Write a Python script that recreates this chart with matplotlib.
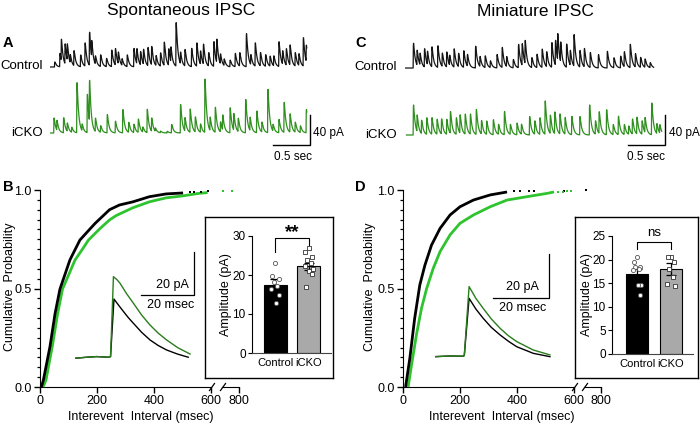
import numpy as np
import matplotlib
matplotlib.use("Agg")
import matplotlib.pyplot as plt
from matplotlib.lines import Line2D

plt.rcParams['font.family'] = ['Liberation Sans', 'DejaVu Sans']

# ---------------- DATA ----------------
# Raw traces: event times (s) and amplitudes (pA)
sA_ctrl_t = [0.06, 0.13, 0.15, 0.20, 0.23, 0.27, 0.32, 0.41, 0.47, 0.53, 0.56, 0.61, 0.68, 0.76, 0.83,
             0.88, 0.92, 0.97, 1.04, 1.13, 1.17, 1.22, 1.26, 1.32, 1.37, 1.43, 1.49, 1.54, 1.60, 1.63,
             1.70, 1.76, 1.82, 1.91, 1.98, 2.03, 2.07, 2.14, 2.21, 2.25, 2.30, 2.35, 2.43, 2.50, 2.56,
             2.65, 2.71, 2.77, 2.84, 2.91, 2.97, 3.02, 3.09, 3.14, 3.19, 3.24, 3.31, 3.36, 3.42, 3.46]
sA_ctrl_a = [6.7, 17.8, 28.9, 26.7, 22.2, 11.1, 20.0, 15.6, 31.0, 44.0, 22.0, 11.0, 15.6, 11.0, 22.0,
             22.0, 15.6, 8.9, 15.6, 24.4, 20.0, 17.8, 20.0, 24.4, 24.4, 13.3, 17.8, 31.0, 22.0, 20.0,
             58.0, 15.6, 22.0, 24.4, 31.0, 17.8, 26.7, 17.8, 33.0, 31.0, 13.3, 8.9, 8.9, 17.8, 17.8,
             44.0, 13.3, 31.0, 17.8, 15.6, 13.3, 13.3, 33.0, 17.8, 22.0, 26.7, 17.8, 15.6, 37.8, 22.0]
sA_icko_t = [0.05, 0.09, 0.18, 0.23, 0.29, 0.36, 0.43, 0.50, 0.53, 0.61, 0.68, 0.77, 0.88, 0.98, 1.06,
             1.13, 1.19, 1.25, 1.31, 1.37, 1.42, 1.49, 1.58, 1.64, 1.76, 1.82, 1.89, 1.96, 2.03, 2.09,
             2.16, 2.23, 2.30, 2.33, 2.43, 2.48, 2.54, 2.64, 2.70, 2.79, 2.86, 2.94, 3.01, 3.09, 3.16,
             3.24, 3.31, 3.38, 3.46]
sA_icko_a = [20.0, 13.3, 20.0, 11.1, 6.7, 66.7, 8.9, 51.0, 55.5, 17.8, 8.9, 24.4, 15.6, 31.0, 13.3,
             11.1, 17.8, 6.7, 31.0, 17.8, 4.4, 2.2, 2.2, 11.1, 37.8, 17.8, 31.0, 20.0, 11.1, 71.0,
             17.8, 33.3, 13.3, 20.0, 33.3, 22.2, 17.8, 44.4, 17.8, 28.9, 13.3, 57.7, 8.9, 17.8, 40.0,
             24.4, 13.3, 8.9, 31.0]
mC_ctrl_t = [0.11, 0.16, 0.20, 0.26, 0.30, 0.36, 0.44, 0.50, 0.56, 0.60, 0.66, 0.72, 0.79, 0.84, 0.95,
             1.01, 1.08, 1.15, 1.24, 1.31, 1.37, 1.46, 1.53, 1.58, 1.62, 1.71, 1.78, 1.85, 1.91, 1.98,
             2.03, 2.06, 2.10, 2.18, 2.23, 2.28, 2.36, 2.42, 2.50, 2.61, 2.73, 2.82, 2.91, 2.96, 3.04,
             3.11, 3.18, 3.24, 3.31]
mC_ctrl_a = [33.0, 20.0, 15.6, 24.4, 17.8, 26.7, 28.9, 17.8, 20.0, 13.3, 24.4, 17.8, 22.2, 15.6, 28.9,
             13.3, 15.6, 8.9, 17.8, 26.7, 13.3, 11.1, 31.0, 28.9, 31.0, 13.3, 17.8, 24.4, 20.0, 33.0,
             33.0, 35.5, 26.7, 31.0, 20.0, 42.0, 22.2, 24.4, 20.0, 17.8, 22.2, 13.3, 15.6, 20.0, 31.0,
             17.8, 13.3, 11.1, 6.7]
mC_icko_t = [0.11, 0.16, 0.22, 0.29, 0.36, 0.43, 0.49, 0.56, 0.61, 0.69, 0.74, 0.81, 0.88, 0.96, 1.03,
             1.10, 1.19, 1.26, 1.34, 1.42, 1.51, 1.57, 1.68, 1.75, 1.82, 1.89, 1.96, 2.02, 2.09, 2.16,
             2.25, 2.36, 2.49, 2.57, 2.62, 2.72, 2.81, 2.88, 2.96, 3.02, 3.07, 3.13, 3.20, 3.24, 3.33,
             3.40, 3.44]
mC_icko_a = [40.0, 22.2, 17.8, 22.2, 22.2, 20.0, 20.0, 20.0, 28.9, 22.2, 24.4, 26.7, 26.7, 33.3, 17.8,
             17.8, 20.0, 13.3, 31.0, 13.3, 15.6, 13.3, 24.4, 17.8, 22.2, 44.4, 24.4, 28.9, 26.7, 22.2,
             24.4, 24.4, 40.0, 17.8, 28.9, 33.3, 13.3, 24.4, 13.3, 11.1, 20.0, 22.2, 17.8, 20.0, 42.2,
             13.3, 11.1]
trace_span_A = [(0.0, 3.47), (0.0, 3.47)]     # control, iCKO (s)
trace_span_C = [(0.0, 3.36), (0.02, 3.47)]

# Cumulative probability of inter-event intervals (msec, probability)
cumB_ctrl_x = [5, 12, 35, 53, 70, 105, 140, 174, 193, 244, 279, 326, 384, 442, 502]
cumB_ctrl_y = [0, 0.036, 0.205, 0.374, 0.497, 0.645, 0.746, 0.80, 0.83, 0.90, 0.924, 0.94, 0.966, 0.98, 0.985]
cumB_ctrl_tail_x = [525, 540, 565, 588]
cumB_ctrl_tail_y = [0.988, 0.99, 0.992, 0.995]
cumB_icko_x = [11, 21, 43, 62, 79, 123, 151, 170, 211, 244, 267, 326, 384, 442, 500, 558, 588]
cumB_icko_y = [0, 0.036, 0.205, 0.374, 0.497, 0.645, 0.704, 0.746, 0.805, 0.848, 0.87, 0.91, 0.94,
               0.96, 0.97, 0.983, 0.987]
cumB_icko_tail_x = [745, 775]
cumB_icko_tail_y = [0.993, 0.995]

cumD_ctrl_x = [9, 24, 41, 59, 77, 100, 130, 165, 200, 247, 306, 365]
cumD_ctrl_y = [0, 0.146, 0.349, 0.518, 0.619, 0.72, 0.805, 0.873, 0.915, 0.949, 0.975, 0.99]
cumD_ctrl_tail_x = [388, 412, 441, 459, 565, 588, 748]
cumD_ctrl_tail_y = [0.993, 0.993, 0.993, 0.994, 0.997, 0.997, 0.998]
cumD_icko_x = [18, 30, 47, 65, 83, 106, 130, 165, 200, 247, 306, 365, 435, 506, 530]
cumD_icko_y = [0, 0.112, 0.264, 0.40, 0.50, 0.602, 0.687, 0.772, 0.831, 0.873, 0.915, 0.949, 0.966,
               0.983, 0.99]
cumD_icko_tail_x = [545, 560, 575, 588]
cumD_icko_tail_y = [0.991, 0.992, 0.993, 0.994]

# Average traces (msec, pA)
avgB_ctrl_t = [0, 4.4, 8.2, 12.7, 13.5, 14.8, 16.5, 18.5, 20.3, 22.2, 25.3, 28.5, 31.6, 34.8, 38.9, 43.0]
avgB_ctrl_a = [0, 0.5, 0.8, 0.5, 0.8, 27.8, 25.0, 21.8, 19.0, 16.4, 12.2, 8.6, 6.0, 3.9, 2.0, 0.5]
avgB_icko_t = [0, 4.4, 8.2, 12.7, 13.5, 14.6, 16.0, 17.1, 19.6, 22.2, 25.3, 28.5, 31.6, 34.8, 39.0, 43.7]
avgB_icko_a = [0, 0.5, 0.8, 0.5, 0.8, 38.3, 36.8, 35.2, 30.3, 25.8, 20.3, 15.6, 11.8, 8.6, 5.0, 2.0]
avgD_ctrl_t = [0, 5, 10, 10.4, 12.1, 14.5, 17.1, 20, 23.1, 26, 29.0, 34.9, 40.8]
avgD_ctrl_a = [0, 0.3, 0.2, 0.5, 26.3, 21.5, 17.3, 13.2, 9.8, 7.0, 4.5, 1.5, 0.0]
avgD_icko_t = [0, 5, 10, 10.4, 12.1, 14.5, 17.1, 20, 23.1, 26, 29.0, 34.9, 40.8]
avgD_icko_a = [0, 0.3, 0.2, 0.5, 31.6, 26.3, 21.8, 17.0, 12.8, 9.5, 6.8, 3.0, 0.8]

# Amplitude bar charts (pA)
groups = ['Control', 'iCKO']
ampB_mean = [17.5, 22.2]
ampB_sem = [1.4, 1.0]
ampB_ctrl_pts = [23.1, 19.7, 19.0, 18.1, 17.3, 16.5, 14.8, 12.9]
ampB_icko_pts = [26.8, 25.9, 24.6, 23.9, 23.2, 22.4, 21.6, 21.0, 20.3, 16.8]
ampD_mean = [17.0, 18.0]
ampD_sem = [1.0, 1.2]
ampD_ctrl_pts = [20.6, 19.4, 18.5, 18.4, 18.0, 17.7, 14.7, 14.6, 12.5]
ampD_icko_pts = [20.6, 20.5, 19.4, 18.0, 16.3, 14.9, 14.5]
sigB = '**'
sigD = 'ns'

# ---------------- STYLE ----------------
W, H = 700, 424
fig = plt.figure(figsize=(7, 4.24), dpi=100)
GREEN_TR = '#2f8f1f'
GREEN_CUM = '#2fc42f'
GREEN_AVG = '#2a7d1c'
FS = 9


def box(x0, y0, x1, y1):
    return [x0 / W, 1 - y1 / H, (x1 - x0) / W, (y1 - y0) / H]


def ftext(x, y, s, **kw):
    kw.setdefault('fontsize', FS)
    kw.setdefault('va', 'center')
    fig.text(x / W, 1 - y / H, s, **kw)


def trace(events_t, events_a, span, dt=0.0005, tr=0.002, td=0.022):
    t = np.arange(span[0], span[1], dt)
    tp = tr * td / (td - tr) * np.log(td / tr)
    norm = np.exp(-tp / td) - np.exp(-tp / tr)
    y = np.zeros_like(t)
    for et, ea in zip(events_t, events_a):
        s = t - et
        m = s > 0
        y[m] += ea * (np.exp(-s[m] / td) - np.exp(-s[m] / tr)) / norm
    return t, y


def trace_panel(rect, ev, spans, offsets, colors, sb_t, sb_base):
    ax = fig.add_axes(rect)
    ax.set_xlim(0, 3.6)
    ax.set_ylim(0, 180)
    ax.axis('off')
    for (et, ea), sp, off, c in zip(ev, spans, offsets, colors):
        t, y = trace(et, ea, sp)
        ax.plot(t, y + off, color=c, lw=0.9)
    ax.plot([sb_t - 0.5, sb_t, sb_t], [sb_base, sb_base, sb_base + 40], color='k', lw=1.0,
            clip_on=False, solid_joinstyle='miter')
    return ax


# ---- Titles and letters
ftext(181, 11, 'Spontaneous IPSC', fontsize=12.5, ha='center')
ftext(535, 11, 'Miniature IPSC', fontsize=12.5, ha='center')
for L, x, y in [('A', 3, 43), ('C', 355, 43), ('B', 3, 187), ('D', 355, 187)]:
    ftext(x, y, L, fontsize=10.5, fontweight='bold', ha='left')

# ---- Panel A traces
trace_panel(box(50, 15, 50 + 74 * 3.6, 150), [(sA_ctrl_t, sA_ctrl_a), (sA_icko_t, sA_icko_a)],
            trace_span_A, [110.7, 22.7], ['#151515', GREEN_TR], 3.51, 6.7)
ftext(43, 66, 'Control', ha='right', fontsize=9.5)
ftext(43, 133, 'iCKO', ha='right', fontsize=9.5)
ftext(313, 133, '40 pA', ha='left', fontsize=8.5)
ftext(293, 157, '0.5 sec', ha='center', fontsize=8.5)

# ---- Panel C traces
trace_panel(box(405, 15, 405 + 74 * 3.6, 150), [(mC_ctrl_t, mC_ctrl_a), (mC_icko_t, mC_icko_a)],
            trace_span_C, [109.3, 20.0], ['#151515', GREEN_TR], 3.51, 6.7)
ftext(397, 67, 'Control', ha='right', fontsize=9.5)
ftext(397, 135, 'iCKO', ha='right', fontsize=9.5)
ftext(669, 133, '40 pA', ha='left', fontsize=8.5)
ftext(646, 157, '0.5 sec', ha='center', fontsize=8.5)


# ---- Cumulative panels
def cum_panel(x0, x_break, x2a, x2b, curves, tails):
    ax = fig.add_axes(box(x0, 190, x_break, 387))
    ax2 = fig.add_axes(box(x2a, 190, x2b, 387))
    ax.set_xlim(0, 600)
    ax2.set_xlim(740, 800)
    for a in (ax, ax2):
        a.set_ylim(0, 1)
        a.patch.set_alpha(0)
        a.spines['top'].set_visible(False)
        a.spines['right'].set_visible(False)
        a.tick_params(direction='out', labelsize=FS, width=1.0, length=4, pad=2)
    ax2.spines['left'].set_visible(False)
    ax2.set_yticks([])
    ax.set_xticks([0, 200, 400, 600])
    ax.set_xticklabels(['0', '200', '400', '600'])
    ax2.set_xticks([800])
    ax2.set_xticklabels(['800'])
    ax.set_yticks([0, 0.5, 1.0])
    ax.set_yticklabels(['0.0', '0.5', '1.0'])
    ax.set_yticks(np.arange(0, 1.0001, 0.05), minor=True)
    ax.tick_params(axis='y', which='minor', length=2.2, width=0.9)
    for (cx, cy, c) in curves:
        ax.plot(cx, cy, color=c, lw=2.0, clip_on=False, solid_capstyle='butt',
                solid_joinstyle='round', zorder=3)
    for (tx, ty, c) in tails:
        for a in (ax, ax2):
            lo, hi = a.get_xlim()
            sel = [(x, y) for x, y in zip(tx, ty) if lo <= x <= hi]
            if sel:
                a.plot([s[0] for s in sel], [s[1] for s in sel], 's', color=c, ms=1.6, mew=0,
                       clip_on=False, zorder=3)
    # break marks
    for bx in (x_break + 1, x2a + 1):
        fig.add_artist(Line2D([(bx - 2.5) / W, (bx + 2.5) / W], [1 - 390.5 / H, 1 - 383.5 / H],
                              color='k', lw=0.9))
    return ax, ax2


cum_panel(40, 211, 222, 239,
          [(cumB_icko_x, cumB_icko_y, GREEN_CUM), (cumB_ctrl_x, cumB_ctrl_y, 'k')],
          [(cumB_ctrl_tail_x, cumB_ctrl_tail_y, 'k'), (cumB_icko_tail_x, cumB_icko_tail_y, GREEN_CUM)])
cum_panel(403, 574, 584, 601,
          [(cumD_icko_x, cumD_icko_y, GREEN_CUM), (cumD_ctrl_x, cumD_ctrl_y, 'k')],
          [(cumD_ctrl_tail_x, cumD_ctrl_tail_y, 'k'), (cumD_icko_tail_x, cumD_icko_tail_y, GREEN_CUM)])
ftext(10, 287, 'Cumulative  Probability', rotation=90, ha='center')
ftext(370, 287, 'Cumulative  Probability', rotation=90, ha='center')
ftext(141, 417, 'Interevent  Interval (msec)', ha='center')
ftext(502, 417, 'Interevent  Interval (msec)', ha='center')


# ---- Average trace insets
def avg_inset(rect, xlim, ylim, ctrl, icko, sb_x, sb_y):
    ax = fig.add_axes(rect)
    ax.set_xlim(*xlim)
    ax.set_ylim(*ylim)
    ax.axis('off')
    ax.plot(ctrl[0], ctrl[1], color='k', lw=1.0)
    ax.plot(icko[0], icko[1], color=GREEN_AVG, lw=1.0)
    ax.plot([sb_x - 20, sb_x, sb_x], [sb_y, sb_y, sb_y + 20], color='k', lw=0.9)


avg_inset(box(75, 240, 200, 360), (0, 125 / 2.633), (-0.8, 55.5),
          (avgB_ctrl_t, avgB_ctrl_a), (avgB_icko_t, avgB_icko_a), 45.2, 29.7)
ftext(172, 285, '20 pA', ha='center')
ftext(171, 305, '20 msec', ha='center')
avg_inset(box(435, 240, 560, 360), (0, 125 / 2.817), (-1.5, 52.6),
          (avgD_ctrl_t, avgD_ctrl_a), (avgD_icko_t, avgD_icko_a), 40.5, 26.5)
ftext(522, 287, '20 pA', ha='center')
ftext(523, 308, '20 msec', ha='center')


# ---- Amplitude bar insets
JIT = [0.0, -0.1, 0.1, -0.05, 0.06, -0.12, 0.12, 0.02, 0.09, -0.08]


def bar_inset(frame, rect, xlim, ylim, yticks, means, sems, pts_c, pts_i, sig, br, width, ylab_x):
    fr = fig.add_axes(box(*frame), zorder=5)
    fr.set_xticks([])
    fr.set_yticks([])
    for s in fr.spines.values():
        s.set_linewidth(1.0)
    ax = fig.add_axes(rect, zorder=6)
    ax.patch.set_alpha(0)
    ax.set_xlim(*xlim)
    ax.set_ylim(*ylim)
    ax.spines['top'].set_visible(False)
    ax.spines['right'].set_visible(False)
    ax.spines['bottom'].set_color('#444444')
    ax.set_yticks(yticks)
    ax.tick_params(axis='y', labelsize=8.5, length=3, pad=1.5)
    ax.set_xticks([0, 1])
    ax.set_xticklabels(groups)
    ax.tick_params(axis='x', labelsize=8, length=0, pad=3.5)
    ax.bar([0, 1], means, width=width, color=['black', '#a9a9a9'], edgecolor='black', lw=0.8,
           zorder=2)
    ax.errorbar([0, 1], means, yerr=sems, fmt='none', ecolor='black', elinewidth=0.9,
                capsize=3.5, capthick=0.9, zorder=3)
    ax.plot([JIT[i % len(JIT)] for i in range(len(pts_c))], pts_c, 'o', ms=3.0,
            mfc='white', mec='#555555', mew=0.6, zorder=4, clip_on=False)
    ax.plot([1 + JIT[i % len(JIT)] for i in range(len(pts_i))], pts_i, 's', ms=3.0,
            mfc='white', mec='#333333', mew=0.6, zorder=4, clip_on=False)
    top, l_low, r_low, ty = br
    ax.plot([0, 0, 1, 1], [l_low, top, top, r_low], color='k', lw=0.8, clip_on=False)
    ax.text(0.5, ty, sig, ha='center', va='center', fontsize=13.5 if sig == '**' else 9.5,
            fontweight='bold' if sig == '**' else 'normal', clip_on=False)
    y0 = (rect[1] + rect[3] / 2)
    fig.text(ylab_x / W, y0, 'Amplitude (pA)', rotation=90, ha='center', va='center',
             fontsize=FS, zorder=7)
    return ax


bar_inset((205, 217, 333, 378), box(252, 236, 331, 353), (-0.69, 1.66), (0, 30), [0, 10, 20, 30],
          ampB_mean, ampB_sem, ampB_ctrl_pts, ampB_icko_pts, sigB, (29.5, 25.8, 27.6, 31.0), 0.69, 226)
bar_inset((575, 217, 698, 378), box(612, 236, 693, 354), (-0.74, 1.65), (0, 25), [0, 5, 10, 15, 20, 25],
          ampD_mean, ampD_sem, ampD_ctrl_pts, ampD_icko_pts, sigD, (23.7, 22.3, 22.3, 25.6), 0.65, 587)

fig.savefig('out.png', dpi=100)
